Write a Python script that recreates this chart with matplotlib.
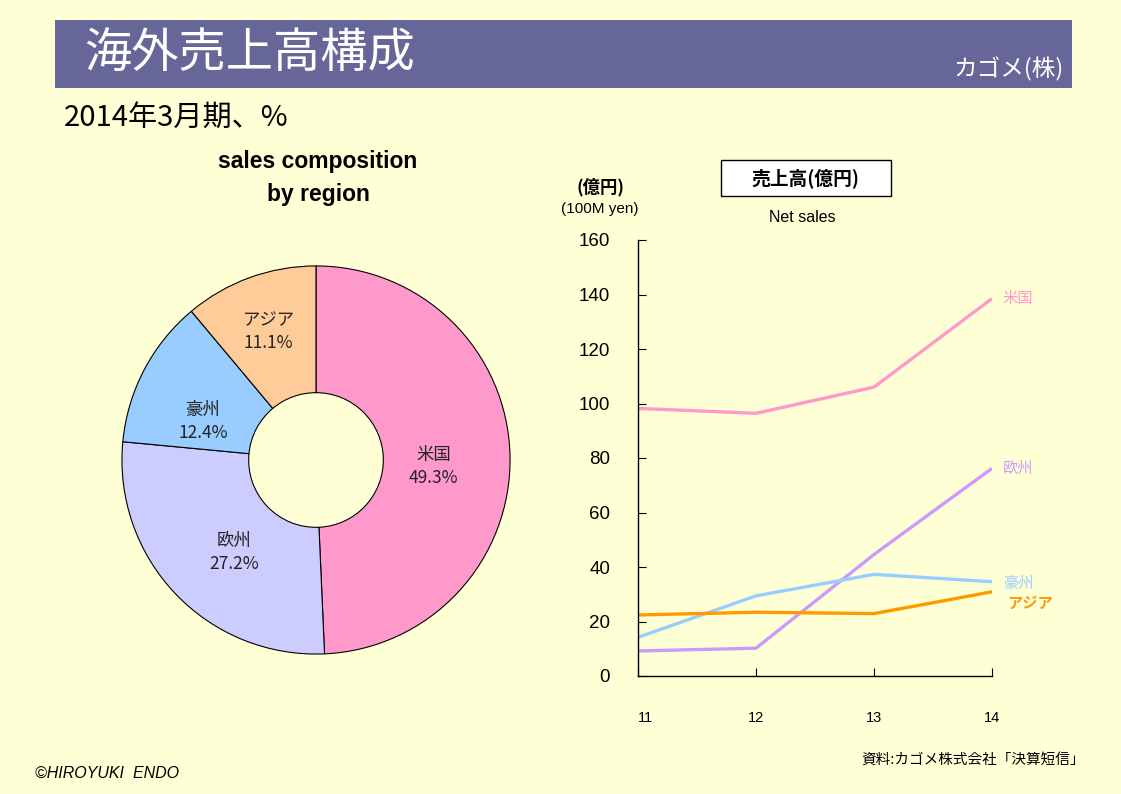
import numpy as np
import matplotlib
matplotlib.use("Agg")
import matplotlib.pyplot as plt
from matplotlib.patches import Rectangle

plt.rcParams['font.family'] = ['Noto Sans CJK JP', 'DejaVu Sans']

# data
regions = ["米国", "欧州", "豪州", "アジア"]
share = [49.3, 27.2, 12.4, 11.1]
pie_colors = ["#FF99CC", "#CCCCFF", "#99CCFF", "#FFCC99"]

years = [11, 12, 13, 14]
sales = {
    "米国": [98.2, 96.4, 106.0, 138.5],
    "欧州": [9.2, 10.2, 44.6, 76.2],
    "豪州": [14.2, 29.4, 37.3, 34.6],
    "アジア": [22.4, 23.4, 22.9, 30.9],
}
line_colors = {"米国": "#FF99CC", "欧州": "#CC99FF", "豪州": "#99CCFF", "アジア": "#FF9900"}
yticks = [0, 20, 40, 60, 80, 100, 120, 140, 160]

W, H = 1121, 794
BG = "#FFFFD6"
fig = plt.figure(figsize=(W / 100, H / 100), dpi=100, facecolor=BG)


def px(x, y):
    return x / W, 1 - y / H


# title band
fig.patches.append(Rectangle(px(55, 88), (1072 - 55) / W, 68 / H, transform=fig.transFigure,
                             facecolor="#666699", edgecolor="none", zorder=0))
fig.text(*px(84, 55), "海外売上高構成", color="white", fontsize=34, va="center", ha="left")
fig.text(*px(1064, 69), "カゴメ(株)", color="white", fontsize=17, va="center", ha="right")
fig.text(*px(64, 118), "2014年3月期、%", color="black", fontsize=21, va="center", ha="left")

# donut
cx, cy, r = 316, 460, 196
axp = fig.add_axes([(cx - r) / W, (H - cy - r) / H, 2 * r / W, 2 * r / H])
axp.set_facecolor("none")
labels = [f"{n}\n{v:.1f}%" for n, v in zip(regions, share)]
wedges, texts = axp.pie(share, colors=pie_colors, startangle=90, counterclock=False,
                        radius=1.0, labels=labels, labeldistance=0.64,
                        wedgeprops=dict(width=1 - 68 / r, edgecolor="black", linewidth=0.8),
                        textprops=dict(fontsize=12.5, ha="center", va="center", color="#222222"))
# label spots inside each ring segment (pixel spots of the reference)
label_px = [(435, 467), (233, 553), (202, 421), (268, 330)]
for t, (lx, ly) in zip(texts, label_px):
    t.set_position(((lx - cx) / r, (cy - ly) / r))
    t.set_horizontalalignment("center")
    t.set_linespacing(1.35)
axp.set_xlim(-1.01, 1.01)
axp.set_ylim(-1.01, 1.01)
axp.set_aspect("equal")
axp.axis("off")

fig.text(*px(318, 178), "sales composition\nby region", fontsize=16.5, fontweight="bold",
         family="Liberation Sans", ha="center", va="center", linespacing=1.55)

# line chart
x0, x1, y0, y1 = 638, 992, 676, 240
ax = fig.add_axes([x0 / W, (H - y0) / H, (x1 - x0) / W, (y0 - y1) / H])
ax.set_facecolor("none")
for name in regions:
    ax.plot(years, sales[name], color=line_colors[name], linewidth=2.4, solid_capstyle="butt")
ax.set_xlim(11, 14)
ax.set_ylim(0, 160)
ax.set_yticks(yticks)
ax.set_xticks(years)
ax.set_xticklabels([str(y) for y in years])
ax.spines["top"].set_visible(False)
ax.spines["right"].set_visible(False)
ax.spines["left"].set_linewidth(1.0)
ax.spines["bottom"].set_linewidth(1.0)
ax.tick_params(axis="y", direction="in", length=6, labelsize=13.5, pad=20)
ax.tick_params(axis="x", direction="in", length=6, labelsize=10.5, pad=25)
for lab in ax.get_yticklabels() + ax.get_xticklabels():
    lab.set_family("Liberation Sans")
ax.get_xticklabels()[0].set_horizontalalignment("left")

end_labels = {"米国": (1018, 299), "欧州": (1018, 468), "豪州": (1018, 583), "アジア": (1030, 603)}
for name, (lx, ly) in end_labels.items():
    fig.text(*px(lx, ly), name, color=line_colors[name], fontsize=11, ha="center", va="center",
             fontweight="bold" if name == "アジア" else "normal")

fig.text(*px(600, 187), "(億円)", fontsize=12.5, fontweight="bold", ha="center", va="center")
fig.text(*px(600, 209), "(100M yen)", fontsize=11, family="Liberation Sans", ha="center", va="center")
fig.patches.append(Rectangle(px(721, 196), 170 / W, 36 / H, transform=fig.transFigure,
                             facecolor="white", edgecolor="black", linewidth=1.0))
fig.text(*px(805, 178), "売上高(億円)", fontsize=13.5, fontweight="bold", ha="center", va="center")
fig.text(*px(802, 217), "Net sales", fontsize=11.5, family="Liberation Sans", ha="center", va="center")

fig.text(*px(1085, 760), "資料:カゴメ株式会社「決算短信」", fontsize=10.5, ha="right", va="center")
fig.text(*px(35, 773), "©HIROYUKI  ENDO", fontsize=11.5, style="italic", family="Liberation Sans",
         ha="left", va="center")

fig.savefig("out.png", dpi=100, facecolor=BG)
